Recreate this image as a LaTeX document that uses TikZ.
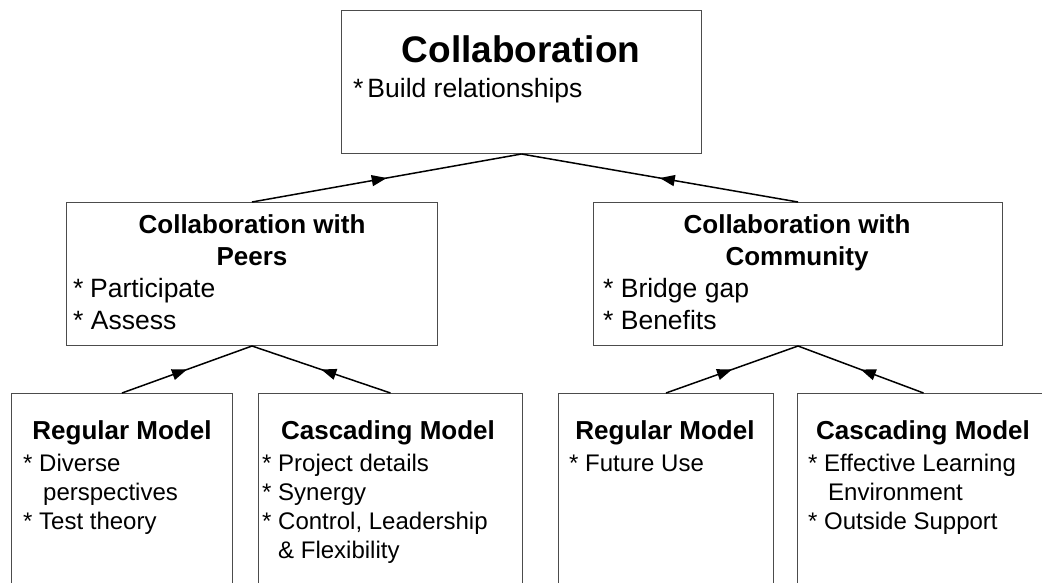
\documentclass[tikz,border=0pt]{standalone}
\usepackage{fontspec}
\setmainfont{Liberation Sans}
\usetikzlibrary{arrows.meta,decorations.markings}
\begin{document}
\begin{tikzpicture}[x=1pt,y=-1pt,
  boxnode/.style={draw=black!70,line width=1pt,inner sep=0pt,anchor=north west,fill=none},
  bigttl/.style={font=\fontsize{37}{44}\selectfont\bfseries,anchor=base,inner sep=0pt},
  ttl/.style={font=\fontsize{26}{31}\selectfont\bfseries,anchor=base,inner sep=0pt},
  bulA/.style={font=\fontsize{26.5}{31}\selectfont,anchor=base west,inner sep=0pt},
  bulB/.style={font=\fontsize{24}{29}\selectfont,anchor=base west,inner sep=0pt},
  conn/.style={line width=1.5pt,draw=black,postaction=decorate,
    decoration={markings,mark=at position 0.5 with {\arrow{Triangle[length=15pt,width=11pt]}}}}
]
\clip (0,0) rectangle (1042,582);
\fill[white] (0,0) rectangle (1042,582);
% boxes
\node[boxnode,minimum width=360pt,minimum height=143pt] (top) at (341,10) {};
\node[boxnode,minimum width=371pt,minimum height=143pt] (ml) at (66,202) {};
\node[boxnode,minimum width=409pt,minimum height=143pt] (mr) at (593,202) {};
\node[boxnode,minimum width=221pt,minimum height=220pt] (b1) at (11,393) {};
\node[boxnode,minimum width=264pt,minimum height=220pt] (b2) at (258,393) {};
\node[boxnode,minimum width=215pt,minimum height=220pt] (b3) at (558,393) {};
\node[boxnode,minimum width=252pt,minimum height=220pt] (b4) at (797,393) {};
% connectors
\draw[conn] (ml.north) -- (top.south);
\draw[conn] (mr.north) -- (top.south);
\draw[conn] (b1.north) -- (ml.south);
\draw[conn] (b2.north) -- (ml.south);
\draw[conn] (b3.north) -- (mr.south);
\draw[conn] (b4.north) -- (mr.south);
% top text
\node[bigttl] (t0) at (521,62) {Collaboration};
\node[bulA] (t0a) at (353,97) {*\hspace{0.15em}Build relationships};
% mid left
\node[ttl] (l1) at (252,233) {Collaboration with};
\node[ttl] (l2) at (252,265) {Peers};
\node[bulA] (l3) at (73,297) {*\hspace{0.25em}Participate};
\node[bulA] (l4) at (73,329) {* Assess};
% mid right
\node[ttl] (r1) at (797,233) {Collaboration with};
\node[ttl] (r2) at (797,265) {Community};
\node[bulA] (r3) at (603,297) {* Bridge gap};
\node[bulA] (r4) at (603,329) {* Benefits};
% b1
\node[ttl] (p1) at (122,439) {Regular Model};
\node[bulB] (p2) at (23,471) {* Diverse};
\node[bulB] (p3) at (43,500) {perspectives};
\node[bulB] (p4) at (23,529) {* Test theory};
% b2
\node[ttl] (q1) at (388,439) {Cascading Model};
\node[bulB] (q2) at (262,471) {* Project details};
\node[bulB] (q3) at (262,500) {* Synergy};
\node[bulB] (q4) at (262,529) {* Control, Leadership};
\node[bulB] (q5) at (278,558) {\& Flexibility};
% b3
\node[ttl] (s1) at (665,439) {Regular Model};
\node[bulB] (s2) at (569,471) {* Future Use};
% b4
\node[ttl] (u1) at (923,439) {Cascading Model};
\node[bulB] (u2) at (808,471) {* Effective Learning};
\node[bulB] (u3) at (828,500) {Environment};
\node[bulB] (u4) at (808,529) {* Outside Support};
\end{tikzpicture}
\end{document}
